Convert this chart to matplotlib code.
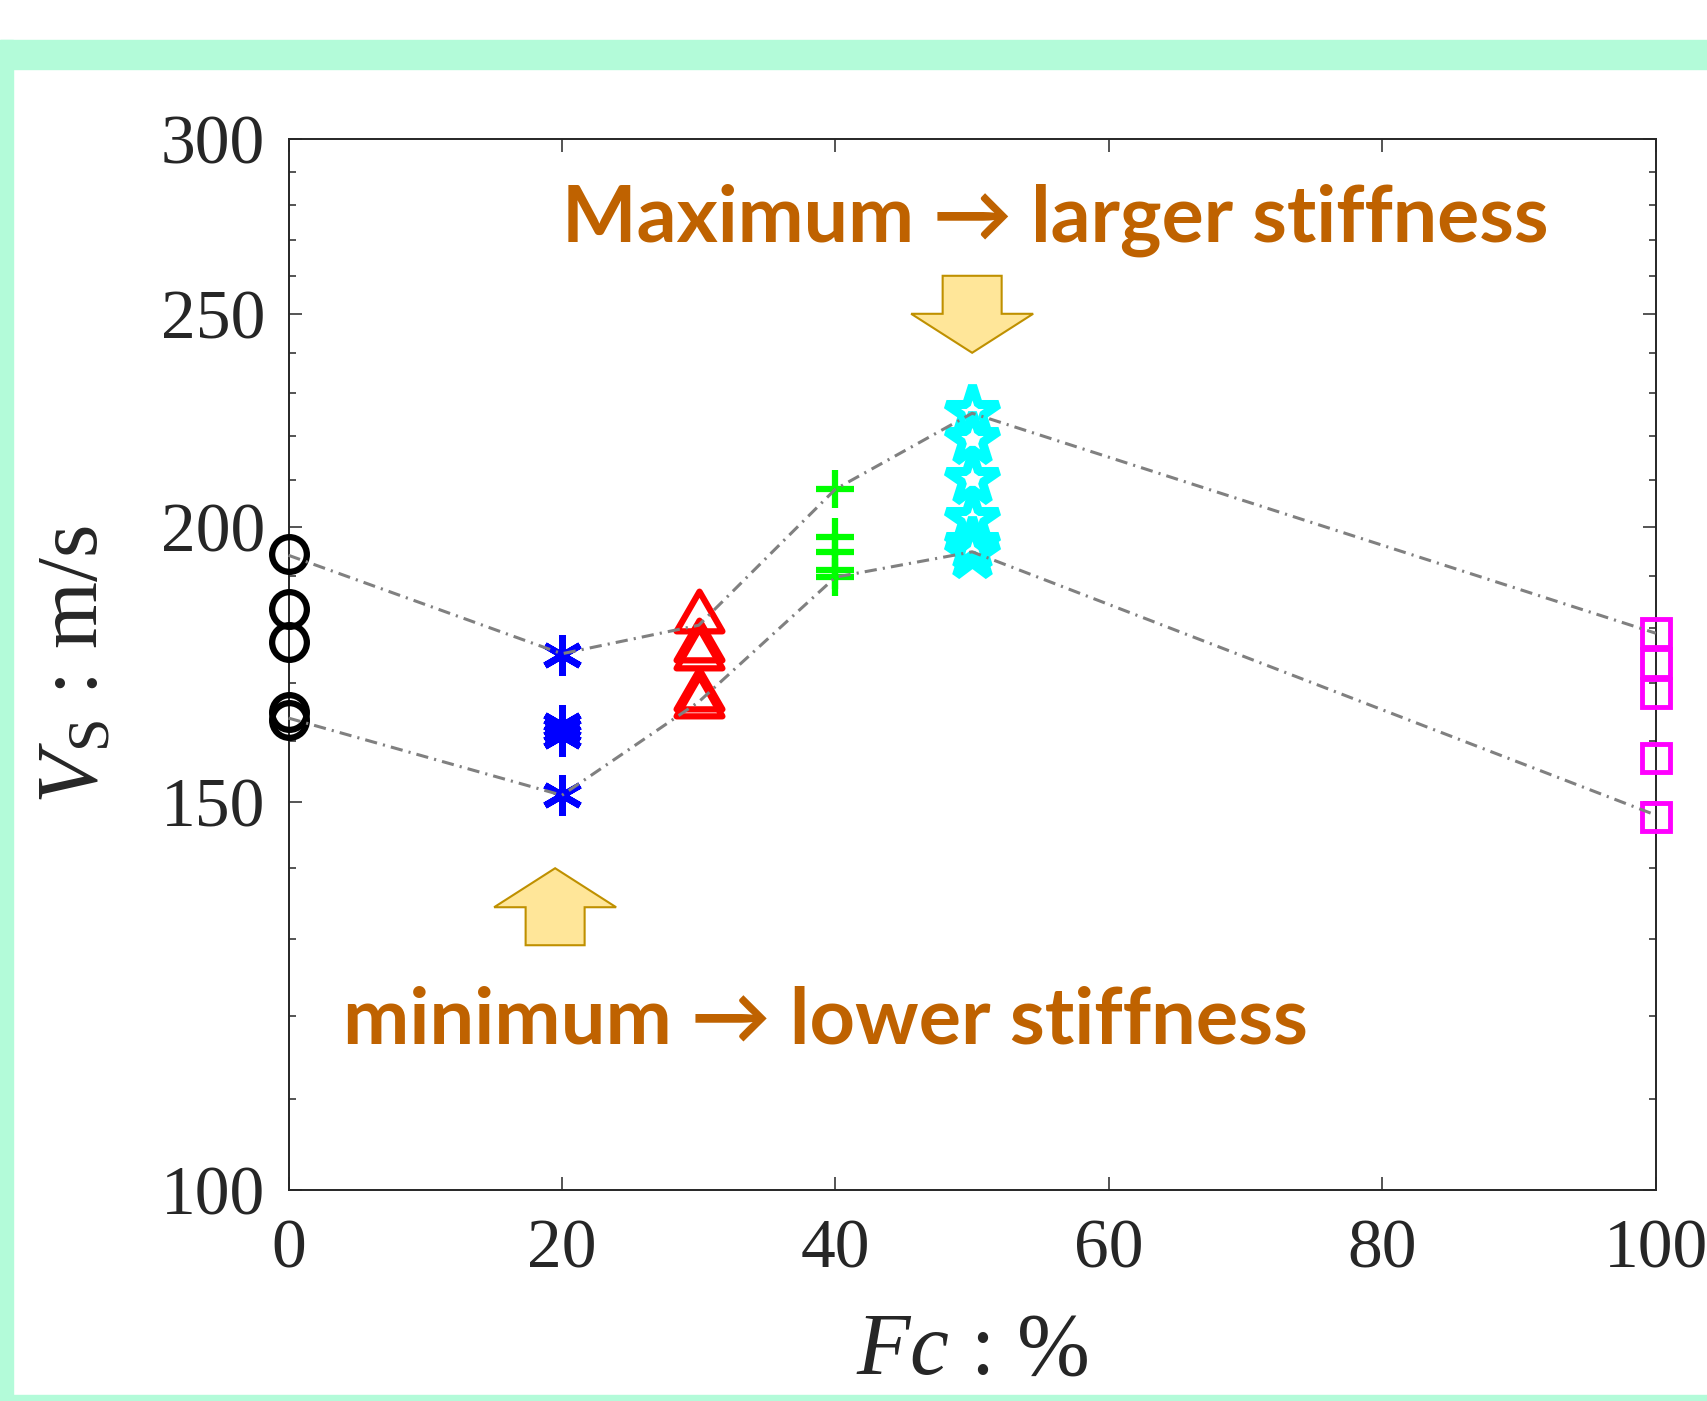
import numpy as np
import matplotlib
matplotlib.use('Agg')
import matplotlib.pyplot as plt
from matplotlib.path import Path
from matplotlib.patches import Polygon, Rectangle
from matplotlib.ticker import NullFormatter
from matplotlib.transforms import IdentityTransform

# fines content (%) of each sample group
fc_groups = [0, 20, 30, 40, 50, 100]

# measured Vs (m/s) for each group
vs_fc0 = [194.4, 183.5, 177.4, 164.9, 163.5]
vs_fc20 = [175.0, 162.7, 161.8, 160.8, 151.1]
vs_fc30 = [183.2, 177.8, 176.3, 168.8, 167.6]
vs_fc40 = [208.1, 198.0, 194.9, 191.2, 189.8]
vs_fc50 = [225.6, 219.2, 210.4, 201.8, 196.5, 194.6]
vs_fc100 = [179.0, 173.5, 168.1, 157.1, 147.7]

# envelope lines (upper / lower)
vs_upper = [194.2, 175.2, 180.5, 208.1, 225.3, 179.0]
vs_lower = [163.8, 151.1, 166.6, 189.8, 194.9, 148.0]

xticks = [0, 20, 40, 60, 80, 100]
yticks = [100, 150, 200, 250, 300]
yminor = [v for v in range(110, 300, 10) if v not in yticks]

plt.rcParams['font.family'] = 'Liberation Serif'
plt.rcParams['mathtext.fontset'] = 'custom'
plt.rcParams['mathtext.rm'] = 'Liberation Serif'
plt.rcParams['mathtext.it'] = 'Liberation Serif:italic'

W, H = 1707, 1401
fig = plt.figure(figsize=(W / 100, H / 100), dpi=100)
fig.patch.set_facecolor('white')

# mint frame
frame_col = '#B3FBD9'
fig.add_artist(Rectangle((0, 1332 / H), 1, 29 / H, transform=fig.transFigure, color=frame_col, zorder=0))
fig.add_artist(Rectangle((0, 0), 13 / W, 1361 / H, transform=fig.transFigure, color=frame_col, zorder=0))
fig.add_artist(Rectangle((0, 0), 1, 6 / H, transform=fig.transFigure, color=frame_col, zorder=0))

ax = fig.add_axes([288.5 / W, 211 / H, 1367.3 / W, 1050.6 / H])
ax.set_yscale('log')
ax.set_xlim(0, 100)
ax.set_ylim(100, 300)

dark = '#262626'
for s in ax.spines.values():
    s.set_color(dark)
    s.set_linewidth(1.4)

ax.set_xticks(xticks)
ax.set_xticklabels([str(v) for v in xticks])
ax.set_yticks(yticks)
ax.set_yticklabels([str(v) for v in yticks])
ax.set_yticks(yminor, minor=True)
ax.yaxis.set_minor_formatter(NullFormatter())
ax.tick_params(which='both', direction='in', top=True, right=True, colors=dark, width=1.1)
ax.tick_params(which='major', length=9.5, labelsize=50)
ax.tick_params(which='minor', length=5)
ax.tick_params(axis='x', pad=21)
ax.tick_params(axis='y', pad=17)

# envelope lines
dash = (0, (4, 2, 0.7, 2))
ax.plot(fc_groups, vs_upper, color='#808080', lw=2.2, ls=dash, zorder=4, clip_on=False)
ax.plot(fc_groups, vs_lower, color='#808080', lw=2.2, ls=dash, zorder=4, clip_on=False)

tri = Path([(0, 0.866), (-1, -0.866), (1, -0.866), (0, 0.866)],
           [Path.MOVETO, Path.LINETO, Path.LINETO, Path.CLOSEPOLY])

groups = [
    (fc_groups[0], vs_fc0, 'o', 'k', 25, 4.5),
    (fc_groups[1], vs_fc20, (6, 2, 0), '#0000FF', 29, 4.8),
    (fc_groups[2], vs_fc30, tri, '#FF0000', 33, 4.5),
    (fc_groups[3], vs_fc40, '+', '#00FF00', 28, 4.5),
    (fc_groups[4], vs_fc50, '*', '#00FFFF', 39, 6.5),
    (fc_groups[5], vs_fc100, 's', '#FF00FF', 20, 3.5),
]
for x, vals, mk, col, ms, mew in groups:
    ax.plot([x] * len(vals), vals, ls='none', marker=mk, ms=ms, mew=mew,
            mec=col, mfc='none', zorder=3, clip_on=False)

ax.set_xlabel(r'$Fc$ : %', fontsize=63, color=dark)
ax.xaxis.label.set_va('baseline')
ax.xaxis.set_label_coords(0.5, -0.175)
ax.set_ylabel(r'$V_{\mathrm{S}}$ : m/s', fontsize=62, color=dark)
ax.yaxis.label.set_va('baseline')
ax.yaxis.set_label_coords(-0.140, 0.5)


# block arrows (pixel geometry), tip placed at a data point
def block_arrow(xd, yd, up):
    tx, ty = ax.transData.transform((xd, yd))
    sw, hw, hl, total = 59 / 2, 122 / 2, 39, 77
    s = -1 if up else 1  # tail direction
    verts = [(tx, ty), (tx - hw, ty + s * hl), (tx - sw, ty + s * hl),
             (tx - sw, ty + s * total), (tx + sw, ty + s * total),
             (tx + sw, ty + s * hl), (tx + hw, ty + s * hl)]
    fig.add_artist(Polygon(verts, closed=True, transform=IdentityTransform(),
                           facecolor='#FFE699', edgecolor='#BF9000', lw=1.5, zorder=5))


block_arrow(50, 240, up=False)
block_arrow(19.5, 140, up=True)

ann_col = '#BF6200'
renderer = fig.canvas.get_renderer()
notes = [
    ('Maximum \u2192 larger stiffness', 562, 241.7, 989),
    ('minimum \u2192 lower stiffness', 343.3, 1043.3, 968),
]
for txt, px, py, target in notes:
    t = fig.text(px / W, (H - py) / H, txt, fontsize=50, fontweight='bold',
                 family=['Lato', 'DejaVu Sans'], color=ann_col, ha='left', va='baseline')
    w = t.get_window_extent(renderer).width
    t.set_fontsize(50 * target / w)

fig.savefig('out.png', dpi=100)
